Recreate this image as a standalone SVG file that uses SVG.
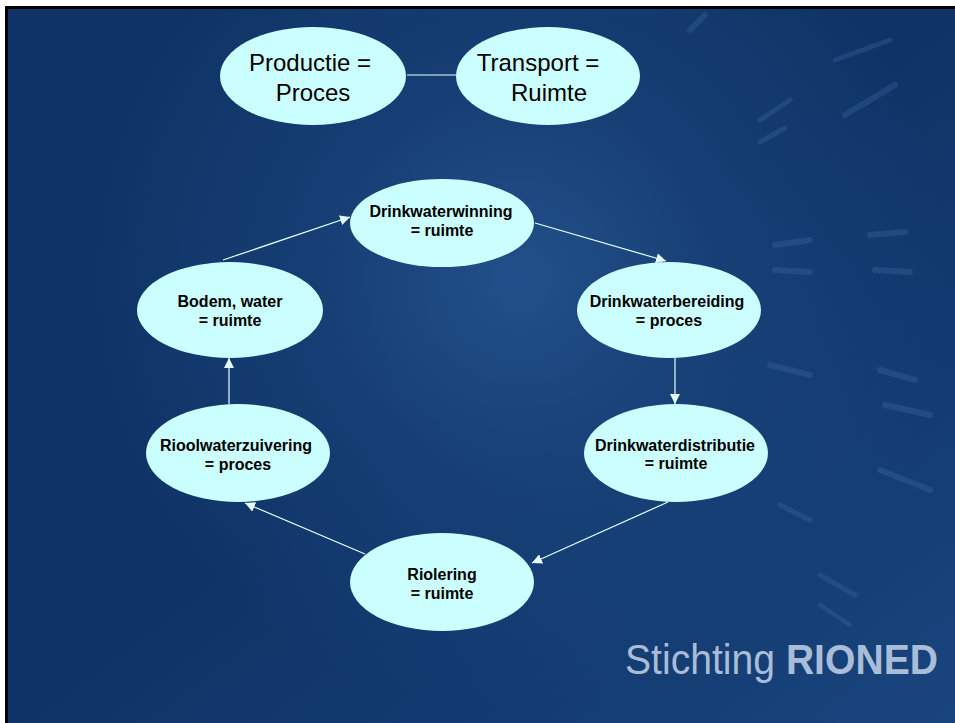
<svg xmlns="http://www.w3.org/2000/svg" width="955" height="723" viewBox="0 0 955 723">
  <defs>
    <radialGradient id="glow" cx="520" cy="280" r="430" gradientUnits="userSpaceOnUse">
      <stop offset="0" stop-color="#22508a"/>
      <stop offset="0.45" stop-color="#173f75"/>
      <stop offset="1" stop-color="#0f3366"/>
    </radialGradient>
    <linearGradient id="br" x1="0" y1="0" x2="1" y2="1">
      <stop offset="0.5" stop-color="#1a4a86" stop-opacity="0"/>
      <stop offset="1" stop-color="#1d4c88" stop-opacity="0.7"/>
    </linearGradient>
    <marker id="arr" viewBox="0 0 10 10" refX="10" refY="5" markerWidth="10" markerHeight="10" markerUnits="userSpaceOnUse" orient="auto">
      <path d="M0,0 L10,5 L0,10 z" fill="#e6ffff"/>
    </marker>
    <style>
      .node { fill: #ccffff; }
      .big { font-family: "Liberation Sans", Arial, sans-serif; font-size: 24px; fill: #000; text-anchor: middle; }
      .lbl { font-family: "Liberation Sans", Arial, sans-serif; font-size: 16px; font-weight: bold; fill: #000; text-anchor: middle; }
      .conn { stroke: #e6ffff; stroke-width: 1.2; fill: none; }
      .streak { stroke: #4a7ab0; stroke-linecap: round; opacity: 0.25; fill: none; }
    </style>
  </defs>

  <!-- background -->
  <rect x="0" y="0" width="955" height="723" fill="#ffffff"/>
  <rect x="5" y="6" width="950" height="717" fill="#000000"/>
  <rect x="8" y="9" width="947" height="714" fill="url(#glow)"/>
  <rect x="8" y="9" width="947" height="714" fill="url(#br)"/>
  <g id="decor">
    <line class="streak" x1="835" y1="60" x2="890" y2="40" stroke-width="5"/>
    <line class="streak" x1="845" y1="115" x2="895" y2="85" stroke-width="6"/>
    <line class="streak" x1="760" y1="120" x2="790" y2="100" stroke-width="5"/>
    <line class="streak" x1="760" y1="142" x2="785" y2="128" stroke-width="5"/>
    <line class="streak" x1="690" y1="30" x2="705" y2="15" stroke-width="6"/>
    <line class="streak" x1="775" y1="245" x2="810" y2="240" stroke-width="6"/>
    <line class="streak" x1="775" y1="270" x2="810" y2="272" stroke-width="6"/>
    <line class="streak" x1="870" y1="235" x2="905" y2="232" stroke-width="6"/>
    <line class="streak" x1="875" y1="270" x2="910" y2="272" stroke-width="6"/>
    <line class="streak" x1="770" y1="365" x2="810" y2="375" stroke-width="6"/>
    <line class="streak" x1="880" y1="370" x2="915" y2="380" stroke-width="6"/>
    <line class="streak" x1="885" y1="405" x2="930" y2="415" stroke-width="6"/>
    <line class="streak" x1="880" y1="470" x2="930" y2="490" stroke-width="6"/>
    <line class="streak" x1="780" y1="505" x2="810" y2="520" stroke-width="5"/>
    <line class="streak" x1="820" y1="575" x2="855" y2="595" stroke-width="5"/>
    <line class="streak" x1="820" y1="605" x2="850" y2="625" stroke-width="4"/>
  </g>

  <!-- connectors -->
  <g id="connectors">
    <line class="conn" x1="407" y1="75" x2="456" y2="75"/>
    <line class="conn" x1="223" y1="260" x2="350" y2="217" marker-end="url(#arr)"/>
    <line class="conn" x1="535" y1="223" x2="666" y2="261" marker-end="url(#arr)"/>
    <line class="conn" x1="675" y1="358" x2="675" y2="404" marker-end="url(#arr)"/>
    <line class="conn" x1="668" y1="502" x2="532" y2="563" marker-end="url(#arr)"/>
    <line class="conn" x1="365" y1="554" x2="245" y2="503" marker-end="url(#arr)"/>
    <line class="conn" x1="229" y1="404" x2="229" y2="358" marker-end="url(#arr)"/>
  </g>

  <!-- nodes -->
  <g id="productie">
    <ellipse class="node" cx="313" cy="76" rx="93" ry="49"/>
    <text class="big" x="310" y="70.5">Productie =</text>
    <text class="big" x="313" y="100.5">Proces</text>
  </g>
  <g id="transport">
    <ellipse class="node" cx="548" cy="76" rx="92" ry="49"/>
    <text class="big" x="538" y="70.5">Transport =</text>
    <text class="big" x="549" y="100.5">Ruimte</text>
  </g>
  <g id="drinkwaterwinning">
    <ellipse class="node" cx="442" cy="223" rx="92" ry="44"/>
    <text class="lbl" x="441" y="217">Drinkwaterwinning</text>
    <text class="lbl" x="442" y="236">= ruimte</text>
  </g>
  <g id="bodem">
    <ellipse class="node" cx="230" cy="310" rx="93" ry="48"/>
    <text class="lbl" x="230" y="307">Bodem, water</text>
    <text class="lbl" x="230" y="326">= ruimte</text>
  </g>
  <g id="drinkwaterbereiding">
    <ellipse class="node" cx="669" cy="310" rx="92" ry="48"/>
    <text class="lbl" x="667" y="307">Drinkwaterbereiding</text>
    <text class="lbl" x="669" y="326">= proces</text>
  </g>
  <g id="drinkwaterdistributie">
    <ellipse class="node" cx="676" cy="453" rx="92" ry="49"/>
    <text class="lbl" x="675" y="451">Drinkwaterdistributie</text>
    <text class="lbl" x="676" y="469">= ruimte</text>
  </g>
  <g id="rioolwaterzuivering">
    <ellipse class="node" cx="238" cy="453" rx="92" ry="49"/>
    <text class="lbl" x="236" y="451">Rioolwaterzuivering</text>
    <text class="lbl" x="238" y="470">= proces</text>
  </g>
  <g id="riolering">
    <ellipse class="node" cx="442" cy="582" rx="92" ry="49"/>
    <text class="lbl" x="442" y="580">Riolering</text>
    <text class="lbl" x="442" y="599">= ruimte</text>
  </g>

  <!-- logo -->
  <text x="625" y="674" font-family="'Liberation Sans', Arial, sans-serif" font-size="43" fill="#a9bdd8" textLength="313" lengthAdjust="spacingAndGlyphs">Stichting <tspan font-weight="bold">RIONED</tspan></text>
</svg>
